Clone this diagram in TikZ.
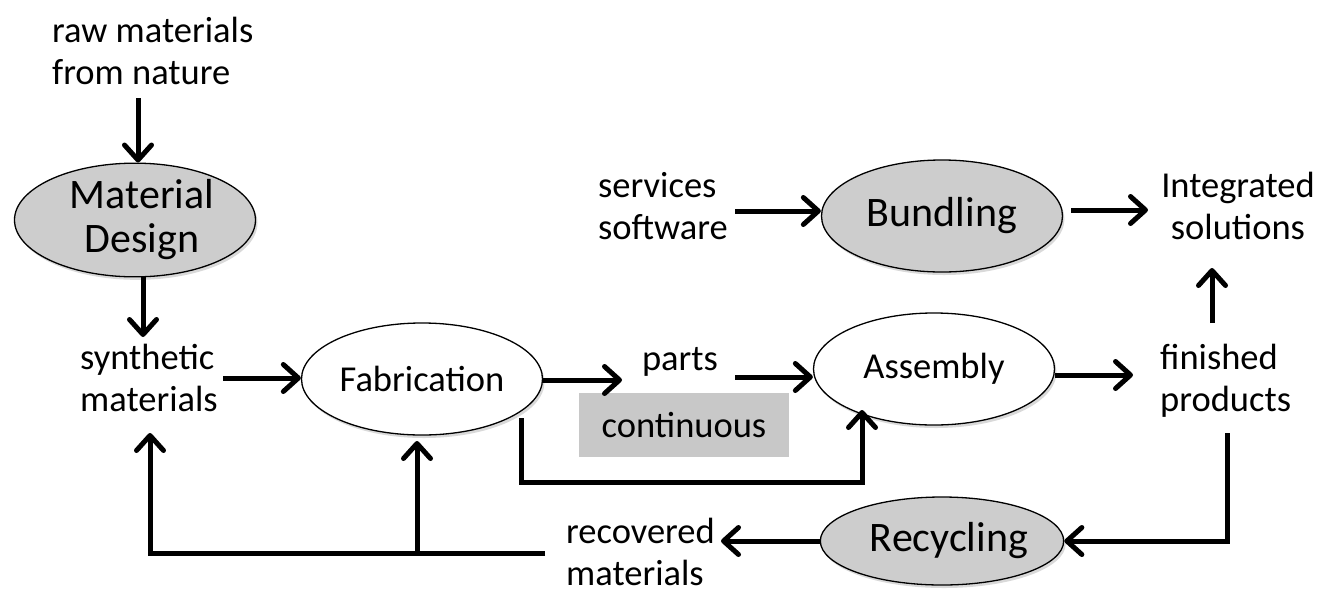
\documentclass[tikz,border=0pt]{standalone}
\usepackage{fontspec}
\setmainfont{Carlito}
\usetikzlibrary{arrows.meta,shapes.geometric,shadows}
\definecolor{pgray}{RGB}{205,205,205}
\definecolor{bgray}{RGB}{200,200,200}
\begin{document}
\begin{tikzpicture}[x=1pt,y=-1pt,
  txt/.style={inner sep=0pt, font=\fontsize{36.5}{42}\selectfont, align=center},
  ltxt/.style={txt, align=left, anchor=west},
  proc/.style={ellipse, draw, line width=1.3pt, fill=white, minimum width=241pt, minimum height=112pt,
    inner sep=0pt, align=center, font=\fontsize{36.5}{42}\selectfont,
    drop shadow={shadow xshift=2pt, shadow yshift=-3pt, opacity=0.15, fill=black}},
  gproc/.style={proc, fill=pgray, font=\fontsize{42}{44}\selectfont},
  contbox/.style={rectangle, fill=bgray, minimum width=210pt, minimum height=64pt, inner sep=0pt,
    font=\fontsize{36.5}{42}\selectfont},
  arr/.style={line width=5pt, -{Straight Barb[length=15pt, width=27pt, round]}}
]
\useasboundingbox (0,0) rectangle (1336,590);

% nodes
\node[ltxt] (raw) at (52,50.5) {raw materials\\from nature};
\node[gproc] (MD) at (135,220) {\hspace*{14pt}Material\\\hspace*{14pt}Design};
\node[ltxt] (synth) at (80,378) {synthetic\\materials};
\node[proc] (Fab) at (422,379) {Fabrication};
\node[txt] (parts) at (680,362) {parts};
\node[contbox] (cont) at (684,425) {continuous};
\node[proc] (Asm) at (934,369) {Assembly};
\node[ltxt] (fin) at (1160,381) {finished\\products};
\node[ltxt] (serv) at (598,206.5) {services\\software};
\node[gproc] (Bund) at (942,216) {Bundling};
\node[txt] (integ) at (1238,206) {Integrated\\solutions};
\node[gproc, minimum height=88pt] (Rec) at (942,541) {\hspace*{14pt}Recycling};
\node[ltxt] (recov) at (566,552) {recovered\\materials};

% coordinates
\coordinate (c0) at (138,98);
\coordinate (c1) at (143,337);
\coordinate (c2) at (223,378);
\coordinate (c3) at (622,380);
\coordinate (c4) at (735,377);
\coordinate (c5) at (1133,375);
\coordinate (c6b) at (1212,323);
\coordinate (c6t) at (1212,268);
\coordinate (c7) at (735,211);
\coordinate (c8a) at (1071,210);
\coordinate (c8b) at (1148,210);
\coordinate (c9) at (1227,433);
\coordinate (c10) at (721,541);
\coordinate (f1) at (545,553);
\coordinate (f2) at (150,553);
\coordinate (f3) at (150,433);
\coordinate (f4) at (417,553);
\coordinate (f5) at (417,441);
\coordinate (l1) at (521,418);
\coordinate (l2) at (521,482);
\coordinate (l3) at (862,482);
\coordinate (l4) at (862,410);

% connectors
\draw[arr] (c0) -- (c0 |- MD.north);
\draw[arr] (c1 |- MD.south) -- (c1);
\draw[arr] (c2) -- (c2 -| Fab.west);
\draw[arr] (c3 -| Fab.east) -- (c3);
\draw[arr] (c4) -- (c4 -| Asm.west);
\draw[arr] (c5 -| Asm.east) -- (c5);
\draw[arr] (c6b) -- (c6t);
\draw[arr] (c7) -- (c7 -| Bund.west);
\draw[arr] (c8a) -- (c8b);
\draw[arr] (c9) |- (Rec.east);
\draw[arr] (Rec.west) -- (c10);
\draw[arr] (f1) -- (f2) -- (f3);
\draw[arr] (f4) -- (f5);
\draw[arr] (l1) -- (l2) -- (l3) -- (l4);
\end{tikzpicture}
\end{document}
